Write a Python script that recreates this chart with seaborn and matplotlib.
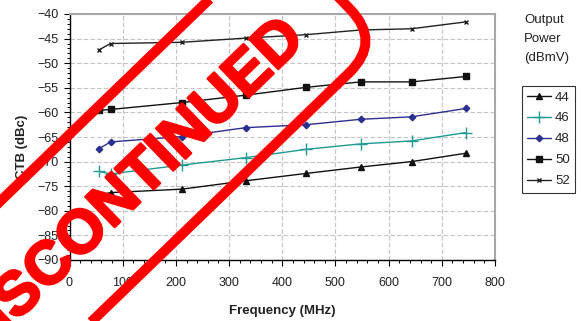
import matplotlib
matplotlib.use("Agg")
import pandas as pd
import matplotlib.pyplot as plt
import matplotlib.patheffects as pe
from matplotlib.patches import FancyBboxPatch
from matplotlib.transforms import Affine2D
from matplotlib.ticker import MultipleLocator
import seaborn as sns

# CTB vs frequency for each output power (dBmV)
freq = [55.25, 77.25, 211.25, 331.25, 445.25, 547.25, 643.25, 745.25]
ctb_44 = [-76.8, -76.3, -75.6, -73.9, -72.4, -71.1, -70.0, -68.3]
ctb_46 = [-72.0, -72.5, -70.7, -69.2, -67.5, -66.4, -65.8, -64.1]
ctb_48 = [-67.4, -66.0, -64.9, -63.1, -62.5, -61.4, -60.9, -59.2]
ctb_50 = [-59.6, -59.4, -58.0, -56.5, -54.9, -53.8, -53.8, -52.7]
ctb_52 = [-47.3, -46.0, -45.75, -44.9, -44.2, -43.25, -43.0, -41.6]
power_levels = ["44", "46", "48", "50", "52"]
legend_title = ["Output", "Power", "(dBmV)"]
stamp_text = "DISCONTINUED"

series = dict(zip(power_levels, [ctb_44, ctb_46, ctb_48, ctb_50, ctb_52]))

# line colour, marker, marker size
styles = {
    "44": ("#111111", "^", 4.5),
    "46": ("#1f9a93", "+", 9),
    "48": ("#2b2f8f", "D", 3.3),
    "50": ("#111111", "s", 4.3),
    "52": ("#222222", "x", 3.5),
}

sns.set_theme(style="white")
plt.rcParams["font.family"] = ["Liberation Sans", "DejaVu Sans"]

W, H = 582, 321
fig = plt.figure(figsize=(W / 100, H / 100), dpi=100)
ax = fig.add_axes([69.5 / W, (H - 260) / H, (495 - 69.5) / W, 246 / H])

for p in power_levels:
    col, mk, ms = styles[p]
    df = pd.DataFrame({"freq": freq, "ctb": series[p]})
    sns.lineplot(data=df, x="freq", y="ctb", ax=ax, color=col, marker=mk,
                 markersize=ms, markeredgecolor=col, markeredgewidth=1.0,
                 linewidth=1.0, label=p, sort=False)

ax.set_xlim(0, 800)
ax.set_ylim(-90, -40)
ax.xaxis.set_major_locator(MultipleLocator(100))
ax.xaxis.set_minor_locator(MultipleLocator(20))
ax.yaxis.set_major_locator(MultipleLocator(5))
ax.yaxis.set_minor_locator(MultipleLocator(1))
ax.grid(True, which="major", color="#c4c4c4", linestyle=(0, (4, 2)), linewidth=0.8)
ax.set_axisbelow(True)

ax.tick_params(axis="both", which="major", direction="out", length=4, width=0.8,
               color="black", labelsize=9, labelcolor="#222222", left=True, bottom=True)
ax.tick_params(axis="both", which="minor", direction="out", length=2.5, width=0.7,
               color="black", left=True, bottom=True)
ax.tick_params(axis="x", which="major", pad=8)
ax.tick_params(axis="y", which="major", pad=4)

for s in ["left", "bottom"]:
    ax.spines[s].set_color("black")
    ax.spines[s].set_linewidth(1.0)
for s in ["top", "right"]:
    ax.spines[s].set_color("#a8a8a8")
    ax.spines[s].set_linewidth(1.5)

ax.set_xlabel("Frequency (MHz)", fontsize=9.5, fontweight="bold", color="#222222")
ax.set_ylabel("CTB (dBc)", fontsize=9.5, fontweight="bold", color="#222222")
ax.xaxis.set_label_coords(0.5, -0.182)
ax.yaxis.set_label_coords(-0.098, 0.46)

ax.legend(loc="upper left", bbox_to_anchor=(522 / W, 1 - 86 / H),
          bbox_transform=fig.transFigure, frameon=True, fancybox=False,
          edgecolor="black", fontsize=9.5, handlelength=1.8, handletextpad=0.3,
          labelspacing=0.66, borderpad=0.4, borderaxespad=0)
ax.get_legend().get_frame().set_linewidth(0.8)

for i, t in enumerate(legend_title):
    fig.text(524 / W, 1 - (18 + 19.5 * i) / H, t, fontsize=9.5, color="#222222",
             ha="left", va="center_baseline")

# red "DISCONTINUED" stamp across the chart
cx, cy = 124.0, H - 186.0
stamp = Affine2D().rotate_deg(44).translate(cx, cy)
box = FancyBboxPatch((-326, -75), 611.5, 150, boxstyle="round,pad=0,rounding_size=45",
                     transform=stamp, fill=False, edgecolor="red", linewidth=7.2,
                     zorder=10)
fig.add_artist(box)
fig.text(0, -23, stamp_text, transform=stamp, rotation=44, rotation_mode="anchor",
         ha="center", va="baseline", fontsize=44, fontweight="bold", color="red",
         zorder=11, path_effects=[pe.withStroke(linewidth=1.8, foreground="red")])

fig.savefig("out.png", dpi=100)
